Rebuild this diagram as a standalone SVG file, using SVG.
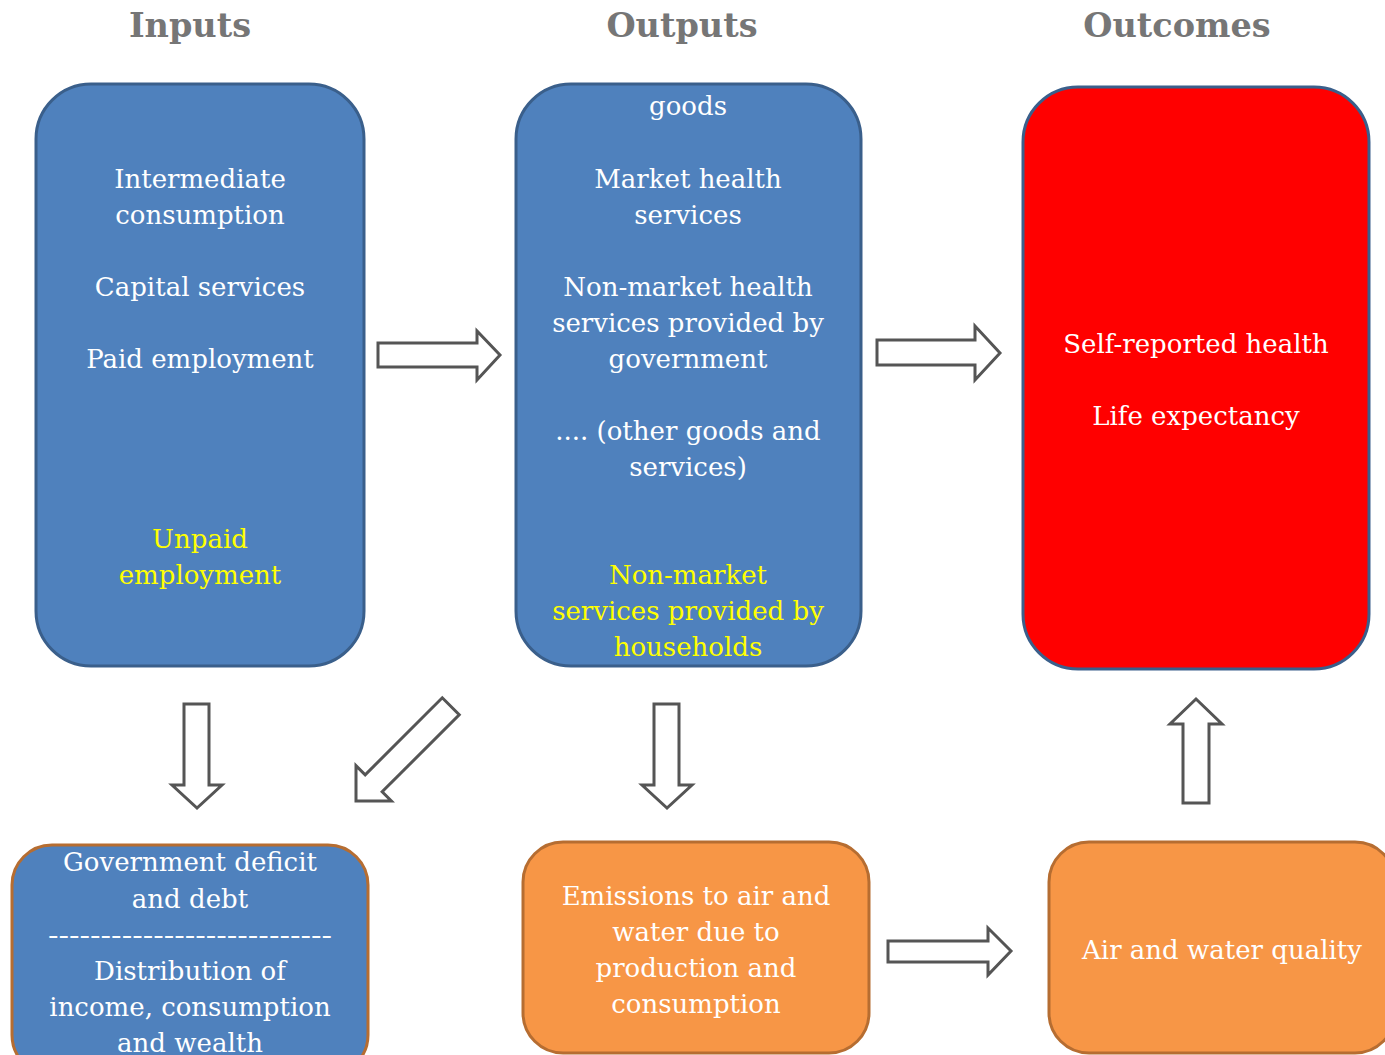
<svg xmlns="http://www.w3.org/2000/svg" width="1385" height="1055" viewBox="0 0 1385 1055">
<style>
.title{font-family:"DejaVu Serif","Liberation Serif",serif;font-weight:bold;font-size:33.5px;fill:#767676;text-anchor:middle}
.t{font-family:"DejaVu Serif","Liberation Serif",serif;font-size:26px;fill:#ffffff;text-anchor:middle}
.y{fill:#ffff00}
.blue{fill:#4f81bd;stroke:#3a5f8b;stroke-width:3}
.red{fill:#ff0000;stroke:#3a5f8b;stroke-width:3}
.orange{fill:#f79646;stroke:#b66d31;stroke-width:3}
.blueo{fill:#4f81bd;stroke:#b66d31;stroke-width:3}
.arrow{fill:#ffffff;stroke:#555555;stroke-width:3;stroke-linejoin:miter}
</style>
<rect width="1385" height="1055" fill="#ffffff"/>
<g id="titles">
<text class="title" x="190" y="37">Inputs</text>
<text class="title" x="682" y="37">Outputs</text>
<text class="title" x="1177" y="37">Outcomes</text>
</g>
<g id="inputs">
<rect class="blue" x="36" y="84" width="328" height="582" rx="55"/>
<text class="t" x="200" y="188">Intermediate</text>
<text class="t" x="200" y="224">consumption</text>
<text class="t" x="200" y="296">Capital services</text>
<text class="t" x="200" y="368">Paid employment</text>
<text class="t y" x="200" y="548">Unpaid</text>
<text class="t y" x="200" y="584">employment</text>
</g>
<g id="outputs">
<rect class="blue" x="516" y="84" width="345" height="582" rx="55"/>
<text class="t" x="688" y="115">goods</text>
<text class="t" x="688" y="188">Market health</text>
<text class="t" x="688" y="224">services</text>
<text class="t" x="688" y="296">Non-market health</text>
<text class="t" x="688" y="332">services provided by</text>
<text class="t" x="688" y="368">government</text>
<text class="t" x="688" y="440">.... (other goods and</text>
<text class="t" x="688" y="476">services)</text>
<text class="t y" x="688" y="584">Non-market</text>
<text class="t y" x="688" y="620">services provided by</text>
<text class="t y" x="688" y="656">households</text>
</g>
<g id="outcomes">
<rect class="red" x="1023" y="87" width="346" height="582" rx="55"/>
<text class="t" x="1196" y="353">Self-reported health</text>
<text class="t" x="1196" y="425">Life expectancy</text>
</g>
<g id="government">
<rect class="blueo" x="12" y="845" width="356" height="230" rx="40"/>
<text class="t" x="190" y="871">Government deficit</text>
<text class="t" x="190" y="908">and debt</text>
<text class="t" x="190" y="944" textLength="284" lengthAdjust="spacingAndGlyphs">---------------------------</text>
<text class="t" x="190" y="980">Distribution of</text>
<text class="t" x="190" y="1016">income, consumption</text>
<text class="t" x="190" y="1052">and wealth</text>
</g>
<g id="emissions">
<rect class="orange" x="523" y="842" width="346" height="211" rx="40"/>
<text class="t" x="696" y="905">Emissions to air and</text>
<text class="t" x="696" y="941">water due to</text>
<text class="t" x="696" y="977">production and</text>
<text class="t" x="696" y="1013">consumption</text>
</g>
<g id="quality">
<rect class="orange" x="1049" y="842" width="346" height="211" rx="40"/>
<text class="t" x="1222" y="959">Air and water quality</text>
</g>
<g id="connectors">
<polygon class="arrow" points="378,343 477,343 477,331 500,355 477,380 477,367 378,367"/>
<polygon class="arrow" points="877,340 975,340 975,326 1000,353 975,380 975,365 877,365"/>
<polygon class="arrow" points="888,941 988,941 988,928 1011,951 988,975 988,962 888,962"/>
<polygon class="arrow" points="184,704 209,704 209,785 222,785 197,808 172,785 184,785"/>
<polygon class="arrow" points="654,704 679,704 679,785 692,785 667,808 642,785 654,785"/>
<polygon class="arrow" points="1183,803 1209,803 1209,724 1222,724 1196,699 1170,724 1183,724"/>
<polygon class="arrow" transform="translate(356,801) rotate(135)" points="0,0 -25,-25 -25,-12 -134,-12 -134,12 -25,12 -25,25"/>
</g>
</svg>
